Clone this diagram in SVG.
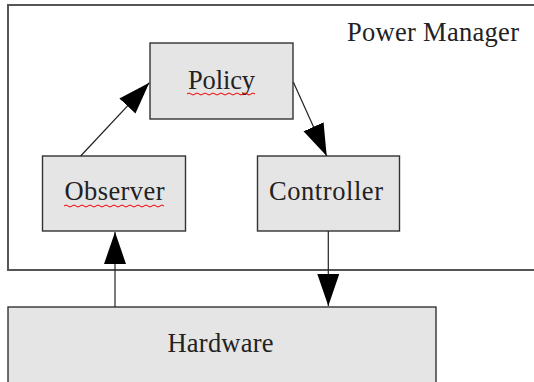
<svg xmlns="http://www.w3.org/2000/svg" width="534" height="382" viewBox="0 0 534 382">
  <style>
    .frame { fill: none; stroke: #555; stroke-width: 2; }
    .box { fill: #e5e5e5; stroke: #333; stroke-width: 1.4; }
    .label { font-family: "Liberation Serif", "Times New Roman", serif; font-size: 26.5px; fill: #222; }
    .link { fill: none; stroke: #222; stroke-width: 1.2; }
    .squiggle { fill: none; stroke: #e00; stroke-width: 1; }
  </style>
  <defs>
    <marker id="head" markerUnits="userSpaceOnUse" markerWidth="33" markerHeight="24" refX="32" refY="11" orient="auto">
      <path d="M0,0 L32,11 L0,22 z" fill="#000"/>
    </marker>
  </defs>
  <rect width="534" height="382" fill="#fff"/>

  <!-- enclosing Power Manager frame, open to the right -->
  <g id="power-manager">
    <path class="frame" d="M540,5 H8 V270 H540"/>
    <text class="label" x="347" y="41" textLength="172" lengthAdjust="spacing">Power Manager</text>
  </g>

  <g id="policy">
    <rect class="box" x="150" y="43" width="143" height="76"/>
    <text class="label" x="221.5" y="89" text-anchor="middle" textLength="67" lengthAdjust="spacing">Policy</text>
    <path class="squiggle" d="M187,94 q2,-2 4,0 t4,0 t4,0 t4,0 t4,0 t4,0 t4,0 t4,0 t4,0 t4,0 t4,0 t4,0 t4,0 t4,0 t4,0 t4,0 t4,0"/>
  </g>

  <g id="observer">
    <rect class="box" x="42.5" y="156" width="143" height="75"/>
    <text class="label" x="114.5" y="200" text-anchor="middle" textLength="100" lengthAdjust="spacing">Observer</text>
    <path class="squiggle" d="M64,206 q2,-2 4,0 t4,0 t4,0 t4,0 t4,0 t4,0 t4,0 t4,0 t4,0 t4,0 t4,0 t4,0 t4,0 t4,0 t4,0 t4,0 t4,0 t4,0 t4,0 t4,0 t4,0 t4,0 t4,0 t4,0 t4,0"/>
  </g>

  <g id="controller">
    <rect class="box" x="257.5" y="156" width="142" height="75"/>
    <text class="label" x="326" y="200" text-anchor="middle" textLength="114" lengthAdjust="spacing">Controller</text>
  </g>

  <g id="hardware">
    <rect class="box" x="8" y="307" width="428" height="76"/>
    <text class="label" x="220.5" y="352" text-anchor="middle" textLength="106" lengthAdjust="spacing">Hardware</text>
  </g>

  <g id="connectors">
    <line class="link" x1="80.7" y1="156" x2="149.3" y2="82.7" marker-end="url(#head)"/>
    <line class="link" x1="293.3" y1="82" x2="326.7" y2="156" marker-end="url(#head)"/>
    <line class="link" x1="328.3" y1="231" x2="328.3" y2="306" marker-end="url(#head)"/>
    <line class="link" x1="115" y1="307" x2="115" y2="232" marker-end="url(#head)"/>
  </g>
</svg>
